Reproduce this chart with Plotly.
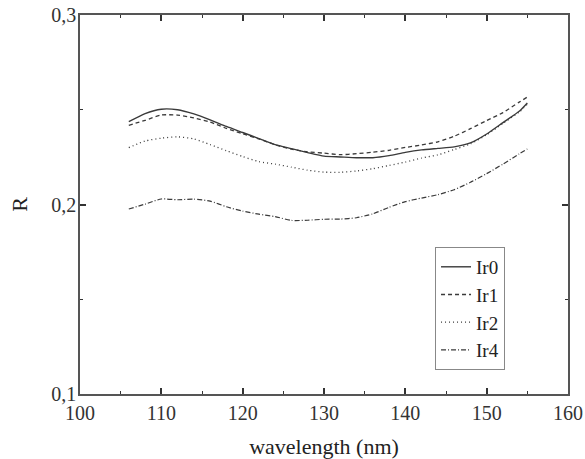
import plotly.graph_objects as go

wavelength = [106, 108, 110, 112, 114, 116, 118, 120, 122, 124, 126, 128, 130,
              132, 134, 136, 138, 140, 142, 144, 146, 148, 150, 152, 154, 155]

ir0 = [0.2437, 0.2480, 0.2503, 0.2500, 0.2478, 0.2447, 0.2412, 0.2380, 0.2348,
       0.2316, 0.2295, 0.2274, 0.2255, 0.2251, 0.2247, 0.2247, 0.2258, 0.2275,
       0.2288, 0.2296, 0.2304, 0.2325, 0.2372, 0.2432, 0.2492, 0.2536]
ir1 = [0.2418, 0.2444, 0.2472, 0.2472, 0.2457, 0.2435, 0.2402, 0.2373, 0.2346,
       0.2315, 0.2292, 0.2278, 0.2271, 0.2263, 0.2268, 0.2276, 0.2286, 0.2301,
       0.2314, 0.2331, 0.2360, 0.2400, 0.2443, 0.2485, 0.2540, 0.2567]
ir2 = [0.2300, 0.2335, 0.2350, 0.2357, 0.2346, 0.2316, 0.2284, 0.2253, 0.2226,
       0.2213, 0.2197, 0.2181, 0.2171, 0.2170, 0.2177, 0.2189, 0.2206, 0.2224,
       0.2245, 0.2262, 0.2290, 0.2320, 0.2368, 0.2428, 0.2488, 0.2530]
ir4 = [0.1976, 0.2002, 0.2029, 0.2025, 0.2028, 0.2018, 0.1988, 0.1965, 0.1949,
       0.1936, 0.1916, 0.1917, 0.1922, 0.1923, 0.1930, 0.1951, 0.1985, 0.2015,
       0.2034, 0.2052, 0.2078, 0.2117, 0.2163, 0.2213, 0.2267, 0.2293]

series = [("Ir0", ir0, "solid", 1.4), ("Ir1", ir1, "4px,3px", 1.3),
          ("Ir2", ir2, "1px,3px", 1.3), ("Ir4", ir4, "5px,2px,1px,2px", 1.2)]

FONT = "Liberation Serif, Times New Roman, serif"

fig = go.Figure()
for name, vals, dash, w in series:
    fig.add_trace(go.Scatter(
        x=wavelength, y=vals, name=name, mode="lines",
        line=dict(color="#3a3a3a", width=w, dash=dash, shape="spline", smoothing=0.6),
    ))

axis_common = dict(
    showgrid=False, zeroline=False, showline=True, linecolor="#555555", linewidth=1.5,
    mirror="ticks", ticks="inside", ticklen=6, tickwidth=1.5, tickcolor="#333333",
    tickfont=dict(family=FONT, size=20, color="#333333"), automargin=False,
    ticklabeloverflow="allow",
)

fig.update_xaxes(
    range=[100, 160], tickvals=[100, 110, 120, 130, 140, 150, 160],
    minor=dict(ticks="inside", ticklen=3, tickwidth=1.2, tickcolor="#333333", dtick=5),
    title=dict(text="wavelength (nm)", font=dict(family=FONT, size=22, color="#222222"), standoff=16),
    **axis_common,
)
fig.update_yaxes(
    range=[0.1, 0.3], tickvals=[0.1, 0.2, 0.3], tickformat=".1f",
    ticklabelstandoff=-2,
    minor=dict(ticks="inside", ticklen=3, tickwidth=1.2, tickcolor="#333333", dtick=0.05),
    title=dict(text="R", font=dict(family=FONT, size=22, color="#222222"), standoff=18),
    **axis_common,
)

fig.update_layout(
    width=585, height=459,
    margin=dict(l=80, r=17, t=15, b=65),
    paper_bgcolor="white", plot_bgcolor="white",
    separators=", ",
    font=dict(family=FONT, color="#222222"),
    legend=dict(
        x=0.7275, y=0.388, xanchor="left", yanchor="top",
        bgcolor="white", bordercolor="#888888", borderwidth=1,
        font=dict(family=FONT, size=19, color="#222222"),
        tracegroupgap=0, itemwidth=30,
    ),
)

# remove the browser's default 8px body margin so the figure fills the window
fig.write_html("out.html", config={"displayModeBar": False},
               post_script="document.body.style.margin='0';")
